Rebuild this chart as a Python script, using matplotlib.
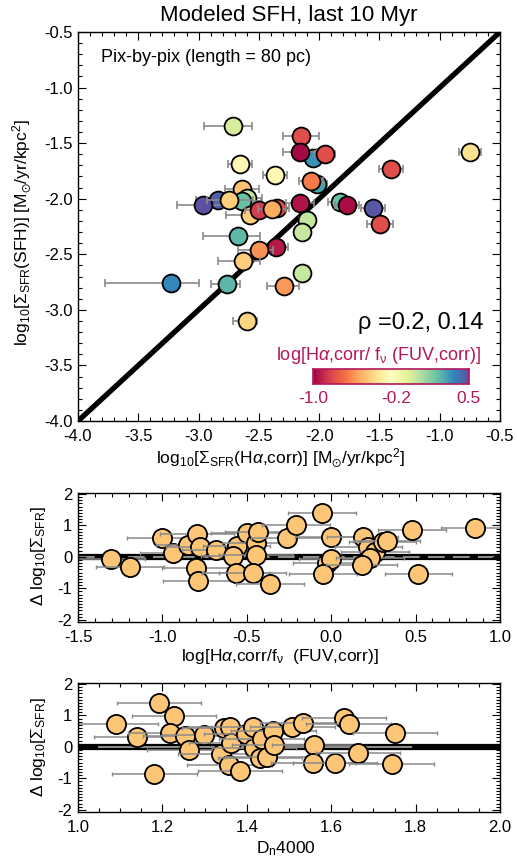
import numpy as np
import matplotlib
matplotlib.use("Agg")
import matplotlib.pyplot as plt
from matplotlib.ticker import MultipleLocator, FixedLocator

plt.rcParams['font.family'] = ['Liberation Sans', 'DejaVu Sans']
plt.rcParams['mathtext.fontset'] = 'custom'
plt.rcParams['mathtext.rm'] = 'Liberation Sans'
plt.rcParams['mathtext.it'] = 'Liberation Sans:italic'
plt.rcParams['mathtext.sf'] = 'Liberation Sans'
plt.rcParams['mathtext.fallback'] = 'stixsans'
plt.rcParams['axes.unicode_minus'] = False

# ---------------- data: top panel (listed in drawing order) ----------------
sfr_ha = [-2.714, -2.150, -2.051, -2.159, -1.951, -2.656, -2.366, -0.749, -1.404, -2.018,
          -2.068, -2.640, -2.598, -2.640, -2.839, -2.963, -2.748, -2.573, -2.499, -2.350,
          -2.391, -2.159, -2.101, -1.827, -1.769, -1.553, -1.495, -2.142, -2.673, -2.358,
          -2.499, -2.631, -2.142, -3.229, -2.764, -2.291, -2.598]
sfr_sfh = [-1.346, -1.436, -1.634, -1.580, -1.598, -1.688, -1.787, -1.580, -1.733, -1.868,
           -1.840, -1.912, -1.993, -2.020, -2.011, -2.056, -2.011, -2.146, -2.101, -2.083,
           -2.092, -2.038, -2.191, -2.029, -2.056, -2.083, -2.227, -2.299, -2.335, -2.434,
           -2.461, -2.560, -2.668, -2.758, -2.767, -2.785, -3.100]
ratio_col = [-0.06, -0.80, 0.32, -0.98, -0.80, -0.28, -0.28, -0.39, -0.80, 0.28,
             -0.67, -0.49, -0.03, 0.20, 0.45, 0.50, -0.45, -0.45, -0.85, -0.80,
             -0.55, -0.95, -0.01, 0.20, -0.97, 0.48, -0.80, -0.02, 0.22, -0.93,
             -0.61, -0.46, -0.02, 0.35, 0.23, -0.60, -0.43]
err_lo = [0.24, 0.15, 0.08, 0.14, 0.08, 0.10, 0.10, 0.09, 0.10, 0.08,
          0.10, 0.14, 0.12, 0.16, 0.18, 0.22, 0.18, 0.20, 0.12, 0.10,
          0.12, 0.12, 0.07, 0.10, 0.10, 0.10, 0.11, 0.07, 0.29, 0.10,
          0.17, 0.21, 0.07, 0.55, 0.13, 0.14, 0.12]
err_hi = [0.16, 0.15, 0.08, 0.14, 0.08, 0.10, 0.10, 0.09, 0.10, 0.08,
          0.10, 0.14, 0.12, 0.16, 0.15, 0.17, 0.20, 0.17, 0.12, 0.10,
          0.12, 0.12, 0.07, 0.10, 0.10, 0.10, 0.11, 0.07, 0.18, 0.10,
          0.12, 0.14, 0.07, 0.23, 0.11, 0.12, 0.08]

# ---------------- data: middle panel ----------------
ratio_x = [-1.304, -1.192, -1.001, -0.935, -0.847, -0.797, -0.777, -0.803, -0.787, -0.682,
           -0.560, -0.584, -0.564, -0.501, -0.446, -0.432, -0.447, -0.465, -0.363, -0.264,
           -0.209, -0.056, -0.003, -0.027, -0.001, -0.050, 0.187, 0.220, 0.260, 0.230,
           0.181, 0.305, 0.329, 0.480, 0.516, 0.852]
delta_mid = [-0.08, -0.32, 0.60, 0.11, 0.39, 0.74, 0.32, -0.34, -0.76, 0.21,
             0.35, 0.02, -0.51, 0.76, 0.43, 0.79, 0.05, -0.51, -0.87, 0.60,
             1.01, 1.41, 0.63, -0.19, -0.08, -0.56, 0.63, 0.32, 0.16, -0.03,
             -0.26, 0.48, 0.51, 0.85, -0.55, 0.93]
ratio_err = [0.20, 0.20, 0.21, 0.20, 0.19, 0.22, 0.20, 0.20, 0.21, 0.20,
             0.20, 0.19, 0.20, 0.21, 0.20, 0.20, 0.22, 0.20, 0.20, 0.21,
             0.20, 0.20, 0.21, 0.20, 0.19, 0.20, 0.21, 0.20, 0.20, 0.20,
             0.21, 0.20, 0.20, 0.20, 0.20, 0.20]

# ---------------- data: bottom panel ----------------
dn4000 = [1.089, 1.139, 1.192, 1.227, 1.218, 1.254, 1.264, 1.299, 1.181, 1.338,
          1.346, 1.360, 1.362, 1.359, 1.384, 1.398, 1.414, 1.417, 1.435, 1.431,
          1.449, 1.463, 1.465, 1.508, 1.532, 1.559, 1.558, 1.609, 1.630, 1.641,
          1.663, 1.751, 1.743]
delta_bot = [0.74, 0.32, 1.41, 0.98, 0.43, 0.35, -0.10, 0.37, -0.86, -0.23,
             0.59, 0.62, 0.11, -0.58, -0.76, 0.40, 0.63, -0.02, 0.24, -0.36,
             -0.32, 0.51, 0.05, 0.63, 0.75, 0.05, -0.50, -0.52, 0.93, 0.74,
             -0.18, 0.43, -0.53]
dn_err = [0.10, 0.10, 0.10, 0.10, 0.10, 0.10, 0.10, 0.10, 0.10, 0.10,
          0.10, 0.10, 0.10, 0.10, 0.10, 0.10, 0.10, 0.10, 0.10, 0.10,
          0.10, 0.10, 0.10, 0.10, 0.10, 0.10, 0.10, 0.10, 0.10, 0.10,
          0.10, 0.10, 0.10]

cb_ticks = [-1.0, -0.2, 0.5]
cb_labels = ['-1.0', '-0.2', '0.5']

# ---------------- figure ----------------
W, H = 517, 858
fig = plt.figure(figsize=(W / 100, H / 100), dpi=100)

def fax(l, t, r, b):
    return fig.add_axes([l / W, 1 - b / H, (r - l) / W, (b - t) / H])

ax1 = fax(78, 32, 500, 421)
ax2 = fax(78, 493, 500, 622)
ax3 = fax(78, 683, 500, 812)

TICKFS = 12
LABFS = 12.5
ERRC = '#8a8a8a'
ORANGE = '#fdc676'
CRIM = '#b3175c'
cmap = plt.get_cmap('Spectral')
norm = matplotlib.colors.Normalize(vmin=-1.0, vmax=0.5)

def style(ax):
    for s in ax.spines.values():
        s.set_linewidth(1.0)
    ax.tick_params(which='both', direction='in', top=True, right=True,
                   labelsize=TICKFS, width=0.8)
    ax.tick_params(which='major', length=5.5)
    ax.tick_params(which='minor', length=2.7)
    ax.tick_params(axis='x', pad=6)
    ax.tick_params(axis='y', pad=4)

# ---- top ----
ax1.plot([-4, -0.5], [-4, -0.5], color='black', lw=3.8, zorder=1, solid_capstyle='butt')
for i in range(len(sfr_ha)):
    ax1.errorbar(sfr_ha[i], sfr_sfh[i], xerr=[[err_lo[i]], [err_hi[i]]], fmt='none',
                 ecolor=ERRC, elinewidth=1.2, capsize=3.2, capthick=1.2, zorder=2 + 2 * i)
    ax1.scatter(sfr_ha[i], sfr_sfh[i], s=165, c=[cmap(norm(ratio_col[i]))],
                edgecolors='black', linewidths=1.3, zorder=3 + 2 * i)
ax1.set_xlim(-4.0, -0.5)
ax1.set_ylim(-4.0, -0.5)
ax1.xaxis.set_major_locator(MultipleLocator(0.5))
ax1.xaxis.set_minor_locator(MultipleLocator(0.1))
ax1.yaxis.set_major_locator(MultipleLocator(0.5))
ax1.yaxis.set_minor_locator(MultipleLocator(0.1))
ax1.xaxis.set_major_formatter(matplotlib.ticker.FormatStrFormatter('%.1f'))
ax1.yaxis.set_major_formatter(matplotlib.ticker.FormatStrFormatter('%.1f'))
style(ax1)

fig.text(289 / W, 1 - 15 / H, 'Modeled SFH, last 10 Myr', ha='center', va='center', fontsize=16)
fig.text(101 / W, 1 - 58 / H, 'Pix-by-pix (length = 80 pc)', ha='left', va='center', fontsize=13)
fig.text(484 / W, 1 - 323 / H, 'ρ =0.2, 0.14', ha='right', va='center', fontsize=17)
fig.text(379 / W, 1 - 356 / H, r'log[H$\alpha$,corr/ f$_{\rm ν}$ (FUV,corr)]', ha='center',
         va='center', fontsize=13, color=CRIM)

cax = fax(313, 369, 469, 384)
grad = np.linspace(-1.0, 0.5, 256)[None, :]
cax.imshow(grad, aspect='auto', cmap=cmap, norm=norm, extent=[-1.0, 0.5, 0, 1])
cax.set_yticks([])
cax.set_xticks(cb_ticks)
cax.set_xticklabels(cb_labels)
cax.tick_params(axis='x', length=0, pad=5, labelsize=12.5, labelcolor=CRIM)
for s in cax.spines.values():
    s.set_color(CRIM)
    s.set_linewidth(1.2)

fig.text(281 / W, 1 - 458 / H,
         r'log$_{10}$[$\Sigma_{\rm SFR}$(H$\alpha$,corr)] [M$_{\odot}$/yr/kpc$^{2}$]',
         ha='center', va='center', fontsize=LABFS)
fig.text(22 / W, 1 - 232 / H,
         r'log$_{10}$[$\Sigma_{\rm SFR}$(SFH)] [M$_{\odot}$/yr/kpc$^{2}$]',
         ha='center', va='center', fontsize=LABFS, rotation=90)

# ---- middle ----
ax2.axhline(0, color='black', lw=4.5, zorder=1)
ax2.axhline(0, color='#8c8c8c', lw=1.5, dashes=(8, 4), zorder=1.5)
for i in range(len(ratio_x)):
    ax2.errorbar(ratio_x[i], delta_mid[i], xerr=ratio_err[i], fmt='none',
                 ecolor=ERRC, elinewidth=1.1, capsize=1.5, capthick=1.0, zorder=2 + 2 * i)
    ax2.scatter(ratio_x[i], delta_mid[i], s=190, c=ORANGE, edgecolors='black',
                linewidths=1.3, zorder=3 + 2 * i)
ax2.set_xlim(-1.5, 1.0)
ax2.set_ylim(-2.07, 2.03)
ax2.xaxis.set_major_locator(MultipleLocator(0.5))
ax2.xaxis.set_minor_locator(MultipleLocator(0.1))
ax2.yaxis.set_major_locator(FixedLocator([-2, -1, 0, 1, 2]))
ax2.yaxis.set_minor_locator(MultipleLocator(0.1))
ax2.xaxis.set_major_formatter(matplotlib.ticker.FormatStrFormatter('%.1f'))
style(ax2)
fig.text(280 / W, 1 - 657 / H, r'log[H$\alpha$,corr/f$_{\rm ν}$  (FUV,corr)]',
         ha='center', va='center', fontsize=LABFS)
fig.text(38 / W, 1 - 556 / H, r'$\Delta$ log$_{10}$[$\Sigma_{\rm SFR}$]',
         ha='center', va='center', fontsize=LABFS, rotation=90)

# ---- bottom ----
ax3.axhline(0, color='black', lw=4.5, zorder=1)
ax3.plot([1.05, 1.79], [0, 0], color='#8c8c8c', lw=1.5, zorder=1.5)
for i in range(len(dn4000)):
    ax3.errorbar(dn4000[i], delta_bot[i], xerr=dn_err[i], fmt='none',
                 ecolor=ERRC, elinewidth=1.1, capsize=1.5, capthick=1.0, zorder=2 + 2 * i)
    ax3.scatter(dn4000[i], delta_bot[i], s=190, c=ORANGE, edgecolors='black',
                linewidths=1.3, zorder=3 + 2 * i)
ax3.set_xlim(1.0, 2.0)
ax3.set_ylim(-2.07, 2.03)
ax3.xaxis.set_major_locator(MultipleLocator(0.2))
ax3.xaxis.set_minor_locator(MultipleLocator(0.05))
ax3.yaxis.set_major_locator(FixedLocator([-2, -1, 0, 1, 2]))
ax3.yaxis.set_minor_locator(MultipleLocator(0.1))
ax3.xaxis.set_major_formatter(matplotlib.ticker.FormatStrFormatter('%.1f'))
style(ax3)
fig.text(286 / W, 1 - 849 / H, r'D$_{\rm n}$4000', ha='center', va='center', fontsize=LABFS)
fig.text(38 / W, 1 - 747 / H, r'$\Delta$ log$_{10}$[$\Sigma_{\rm SFR}$]',
         ha='center', va='center', fontsize=LABFS, rotation=90)

fig.savefig('out.png', dpi=100)
